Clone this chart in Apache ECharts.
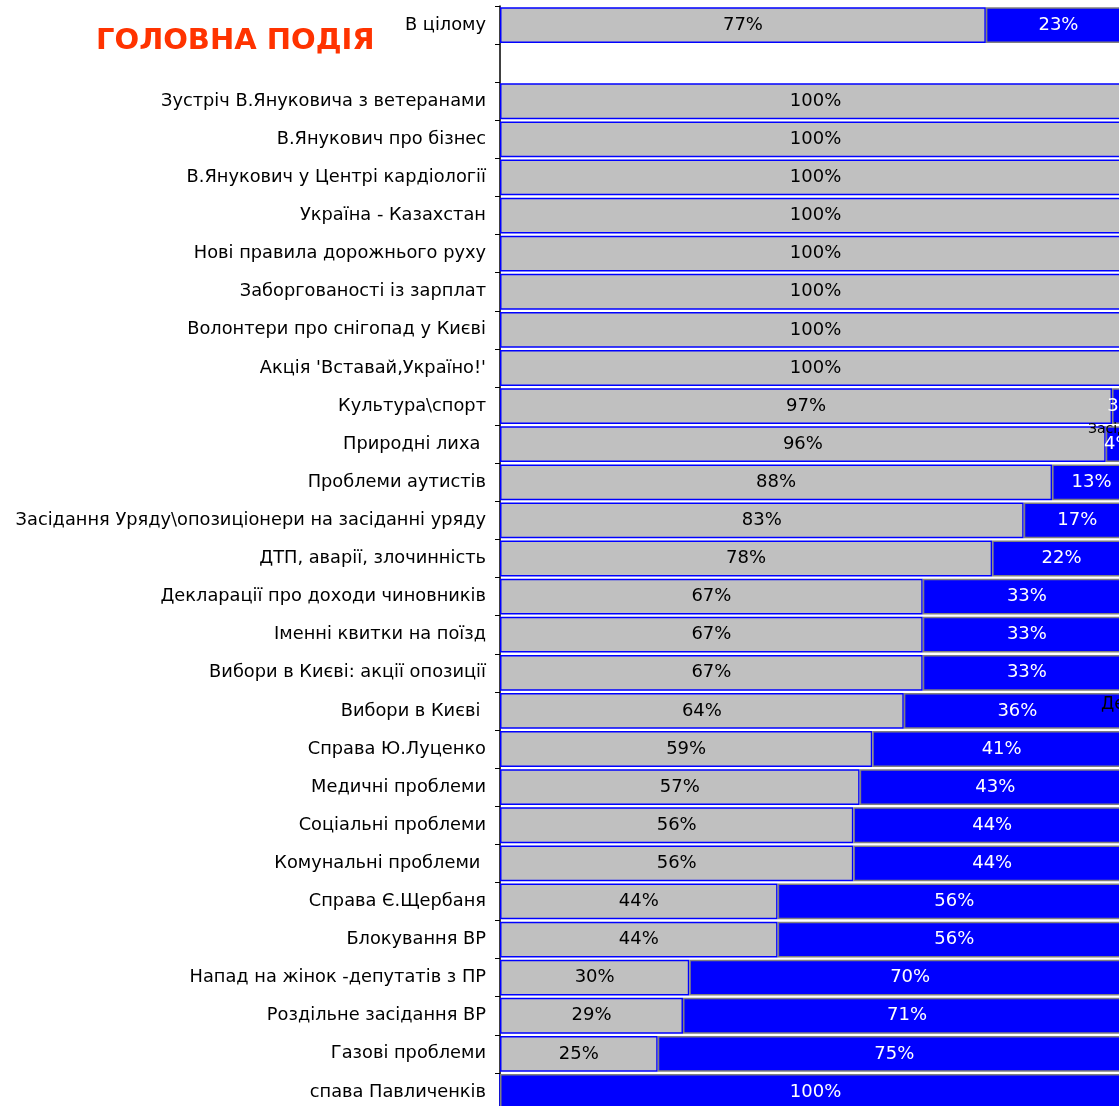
<!DOCTYPE html>
<html><head><meta charset="utf-8">
<script src="https://cdn.jsdelivr.net/npm/echarts@6/dist/echarts.min.js"></script>
<style>html,body{margin:0;padding:0;background:#fff;overflow:hidden;width:1119px;height:1106px}#c{width:1160px;height:1140px}</style>
</head><body><div id="c"></div>
<script>
const categories = ['В цілому','','Зустріч В.Януковича з ветеранами','В.Янукович про бізнес','В.Янукович у Центрі кардіології','Україна - Казахстан','Нові правила дорожнього руху','Заборгованості із зарплат','Волонтери про снігопад у Києві','Акція \'Вставай,Україно!\'','Культура\\спорт','Природні лиха ','Проблеми аутистів','Засідання Уряду\\опозиціонери на засіданні уряду','ДТП, аварії, злочинність','Декларації про доходи чиновників','Іменні квитки на поїзд','Вибори в Києві: акції опозиції','Вибори в Києві ','Справа Ю.Луценко','Медичні проблеми','Соціальні проблеми','Комунальні проблеми ','Справа Є.Щербаня','Блокування ВР','Напад на жінок -депутатів з ПР','Роздільне засідання ВР','Газові проблеми','спава Павличенків'];
const grayValues = [77,null,100,100,100,100,100,100,100,100,97,96,87.5,83,78,67,67,67,64,59,57,56,56,44,44,30,29,25,0];
const blueValues = [23,null,0,0,0,0,0,0,0,0,3,4,12.5,17,22,33,33,33,36,41,43,44,44,56,56,70,71,75,100];
const titleText = 'ГОЛОВНА ПОДІЯ';
const fontFam = 'DejaVu Sans, Verdana, sans-serif';
const fmt = p => (p.value === null || p.value === 0) ? '' : Math.round(p.value) + '%';
const chart = echarts.init(document.getElementById('c'));
chart.setOption({
  animation: false,
  title: {text: titleText, left: 91, top: 22, textStyle: {color: '#ff3300', fontSize: 29, fontWeight: 'bold', fontFamily: fontFam}},
  grid: {left: 500, top: 6, width: 631, height: 1105, containLabel: false},
  xAxis: {type: 'value', min: 0, max: 100, show: false},
  yAxis: {type: 'category', inverse: true, data: categories,
    axisLine: {show: true, lineStyle: {color: '#000', width: 1.5}},
    axisTick: {show: true, length: 5, lineStyle: {color: '#000'}},
    axisLabel: {color: '#000', fontSize: 17.8, fontFamily: fontFam, margin: 14}},
  series: [
    {type: 'bar', stack: 't', data: grayValues, barCategoryGap: '6%',
     itemStyle: {color: '#c0c0c0', borderColor: '#0000ff', borderWidth: 1.5},
     label: {show: true, position: 'inside', color: '#000', fontSize: 18, fontFamily: fontFam, formatter: fmt}},
    {type: 'bar', stack: 't', data: blueValues, barCategoryGap: '6%',
     itemStyle: {color: '#0000ff', borderColor: '#808080', borderWidth: 1.5},
     label: {show: true, position: 'inside', color: '#fff', fontSize: 18, fontFamily: fontFam, formatter: fmt}}
  ],
  graphic: [
    {type: 'text', z: 100, left: 1088, top: 422, style: {text: 'Засідання', fill: '#000', font: '14px ' + fontFam}},
    {type: 'text', z: 100, left: 1101, top: 696, style: {text: 'Декларації', fill: '#000', font: '17px ' + fontFam}}
  ]
});
</script></body></html>
